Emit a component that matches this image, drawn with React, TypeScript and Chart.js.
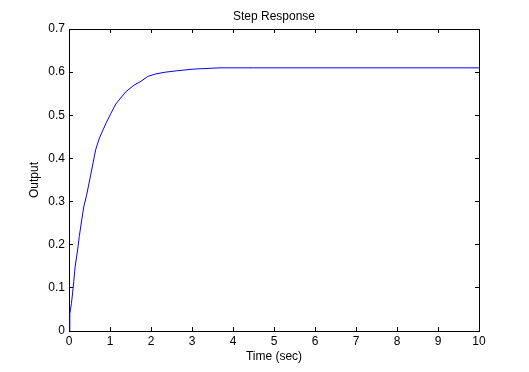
import React, { useEffect, useRef } from "react";
import { Chart, registerables } from "chart.js";

Chart.register(...registerables);

// Step response samples
const timeValues = [
  0, 0.02, 0.06, 0.1, 0.15, 0.21, 0.25, 0.31, 0.36, 0.43, 0.53, 0.65, 0.74,
  0.9, 1.02, 1.14, 1.39, 1.59, 1.76, 1.92, 2.12, 2.36, 2.62, 3.03, 3.68, 4.5,
  6, 8, 10,
];
const outputValues = [
  0, 0.04, 0.064, 0.099, 0.149, 0.188, 0.219, 0.257, 0.288, 0.315, 0.362, 0.42,
  0.447, 0.481, 0.504, 0.526, 0.555, 0.57, 0.579, 0.59, 0.596, 0.6, 0.603,
  0.607, 0.61, 0.61, 0.61, 0.61, 0.61,
];

const xRange = [0, 10];
const xStep = 1;
const yRange = [0, 0.7];
const yStep = 0.1;

const titleText = "Step Response";
const xTitle = "Time (sec)";
const yTitle = "Output";

export default function App() {
  const ref = useRef<HTMLCanvasElement>(null);

  useEffect(() => {
    document.body.style.margin = "0";
    const font = { family: "Arial, 'Liberation Sans', sans-serif", size: 12 };
    const black = "#000000";
    const tickLen = -4;

    const chart = new Chart(ref.current as HTMLCanvasElement, {
      type: "line",
      data: {
        datasets: [
          {
            data: timeValues.map((t, i) => ({ x: t, y: outputValues[i] })),
            borderColor: "#0000ff",
            backgroundColor: "#0000ff",
            borderWidth: 1,
            pointRadius: 0,
            tension: 0,
            fill: false,
          },
        ],
      },
      options: {
        responsive: false,
        animation: false,
        devicePixelRatio: 1,
        layout: { padding: { left: 0, right: 50, top: 0, bottom: 0 } },
        plugins: {
          legend: { display: false },
          tooltip: { enabled: false },
          title: {
            display: true,
            text: titleText,
            fullSize: false,
            color: black,
            font: { ...font, weight: "normal" },
            padding: { top: 9.8, bottom: 4.8 },
          },
        },
        scales: {
          x: {
            type: "linear",
            position: "bottom",
            min: xRange[0],
            max: xRange[1],
            ticks: { stepSize: xStep, color: black, font, padding: 7.8, maxRotation: 0 },
            grid: { drawOnChartArea: false, drawTicks: true, tickLength: tickLen, color: black, lineWidth: 1 },
            border: { display: true, color: black, width: 1 },
            title: { display: true, text: xTitle, color: black, font, padding: { top: 0, bottom: 7.8 } },
            afterFit: (s: any) => {
              s.height = 41;
            },
          },
          x2: {
            type: "linear",
            position: "top",
            min: xRange[0],
            max: xRange[1],
            ticks: { stepSize: xStep, display: false },
            grid: { drawOnChartArea: false, drawTicks: true, tickLength: tickLen, color: black, lineWidth: 1 },
            border: { display: true, color: black, width: 1 },
            afterFit: (s: any) => {
              s.height = 0;
            },
          },
          y: {
            type: "linear",
            position: "left",
            min: yRange[0],
            max: yRange[1],
            ticks: { stepSize: yStep, color: black, font, padding: 8 },
            grid: { drawOnChartArea: false, drawTicks: true, tickLength: tickLen, color: black, lineWidth: 1 },
            border: { display: true, color: black, width: 1 },
            title: { display: true, text: yTitle, color: black, font, padding: { top: 27.8, bottom: 0 } },
            afterFit: (s: any) => {
              s.width = 69;
            },
          },
          y2: {
            type: "linear",
            position: "right",
            min: yRange[0],
            max: yRange[1],
            ticks: { stepSize: yStep, display: false },
            grid: { drawOnChartArea: false, drawTicks: true, tickLength: tickLen, color: black, lineWidth: 1 },
            border: { display: true, color: black, width: 1 },
            afterFit: (s: any) => {
              s.width = 0;
            },
          },
        },
      } as any,
    });
    return () => chart.destroy();
  }, []);

  return (
    <div style={{ position: "absolute", left: 0, top: 0, width: 529, height: 372, background: "#ffffff" }}>
      <canvas ref={ref} width={529} height={372} style={{ display: "block" }} />
    </div>
  );
}
